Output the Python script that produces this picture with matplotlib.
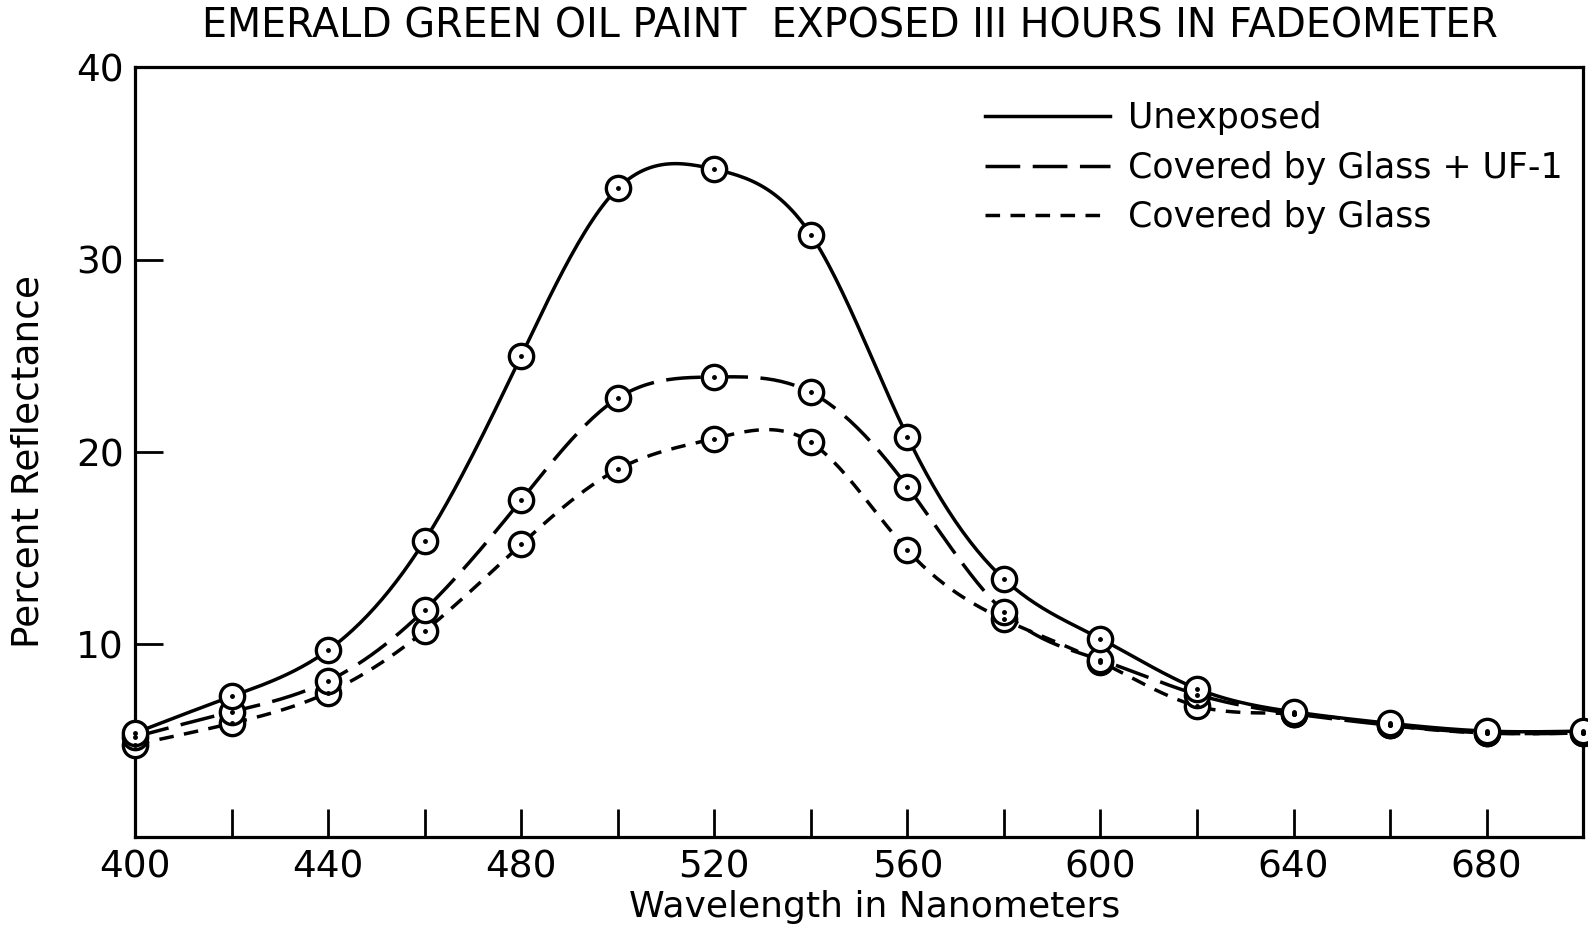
import numpy as np
import matplotlib
matplotlib.use('Agg')
import matplotlib.pyplot as plt

wavelength = [400, 420, 440, 460, 480, 500, 520, 540, 560, 580, 600, 620, 640, 660, 680, 700]
unexposed = [5.4, 7.3, 9.7, 15.4, 25.0, 33.7, 34.7, 31.3, 20.8, 13.4, 10.3, 7.7, 6.5, 5.9, 5.5, 5.5]
glass_uf1 = [5.2, 6.5, 8.1, 11.8, 17.5, 22.8, 23.9, 23.1, 18.2, 11.7, 9.2, 7.4, 6.4, 5.8, 5.4, 5.4]
glass = [4.8, 5.9, 7.5, 10.7, 15.2, 19.1, 20.7, 20.5, 14.9, 11.3, 9.1, 6.8, 6.4, 5.8, 5.4, 5.4]

labels = ['Unexposed', 'Covered by Glass + UF-1', 'Covered by Glass']
x_ticks = [400, 440, 480, 520, 560, 600, 640, 680]
y_ticks = [10, 20, 30, 40]


def spline(x, y, n=400):
    # natural cubic spline, just for drawing the smooth curve through the points
    x = np.asarray(x, float)
    y = np.asarray(y, float)
    k = len(x)
    h = np.diff(x)
    A = np.zeros((k, k))
    b = np.zeros(k)
    A[0, 0] = A[-1, -1] = 1
    for i in range(1, k - 1):
        A[i, i - 1] = h[i - 1]
        A[i, i] = 2 * (h[i - 1] + h[i])
        A[i, i + 1] = h[i]
        b[i] = 6 * ((y[i + 1] - y[i]) / h[i] - (y[i] - y[i - 1]) / h[i - 1])
    m = np.linalg.solve(A, b)
    xs = np.linspace(x[0], x[-1], n)
    idx = np.clip(np.searchsorted(x, xs) - 1, 0, k - 2)
    t = xs - x[idx]
    hi = h[idx]
    a = (y[idx + 1] - y[idx]) / hi - hi * (2 * m[idx] + m[idx + 1]) / 6
    ys = y[idx] + a * t + m[idx] / 2 * t ** 2 + (m[idx + 1] - m[idx]) / (6 * hi) * t ** 3
    return xs, ys


plt.rcParams['font.family'] = ['DejaVu Sans']
fig = plt.figure(figsize=(15.88, 9.33), dpi=100)
ax = fig.add_axes([0.085, 0.103, 0.912, 0.825])

styles = ['-', (0, (10, 3.6)), (0, (4.2, 3.0))]
for vals, ls, lab in zip([unexposed, glass_uf1, glass], styles, labels):
    xs, ys = spline(wavelength, vals)
    ax.plot(xs, ys, color='black', lw=2.5, linestyle=ls, label=lab, zorder=2)

for vals in [glass, glass_uf1, unexposed]:
    ax.plot(wavelength, vals, 'o', ms=17.5, mfc='white', mec='black', mew=2.4, zorder=3, clip_on=False)
    ax.plot(wavelength, vals, '.', ms=5, color='black', zorder=4, clip_on=False)

ax.set_xlim(400, 700)
ax.set_ylim(0, 40)
ax.set_xticks(x_ticks)
ax.set_xticks(range(400, 701, 20), minor=True)
ax.set_yticks(y_ticks)
ax.tick_params(axis='both', which='both', direction='in', length=20, width=2, labelsize=27)
ax.tick_params(axis='x', pad=9)
ax.tick_params(axis='y', pad=8)
for s in ax.spines.values():
    s.set_linewidth(2.3)

leg = ax.legend(loc='upper right', bbox_to_anchor=(1.0, 0.983), frameon=False, fontsize=25,
                handlelength=3.6, handletextpad=0.5, labelspacing=0.45, borderaxespad=0.2)

fig.text(0.535, 0.972, 'EMERALD GREEN OIL PAINT  EXPOSED III HOURS IN FADEOMETER',
         ha='center', va='center', fontsize=28.5)
fig.text(0.551, 0.028, 'Wavelength in Nanometers', ha='center', va='center', fontsize=26)
fig.text(0.018, 0.505, 'Percent Reflectance', ha='center', va='center', rotation=90, fontsize=27)

fig.savefig('out.png', dpi=100)
